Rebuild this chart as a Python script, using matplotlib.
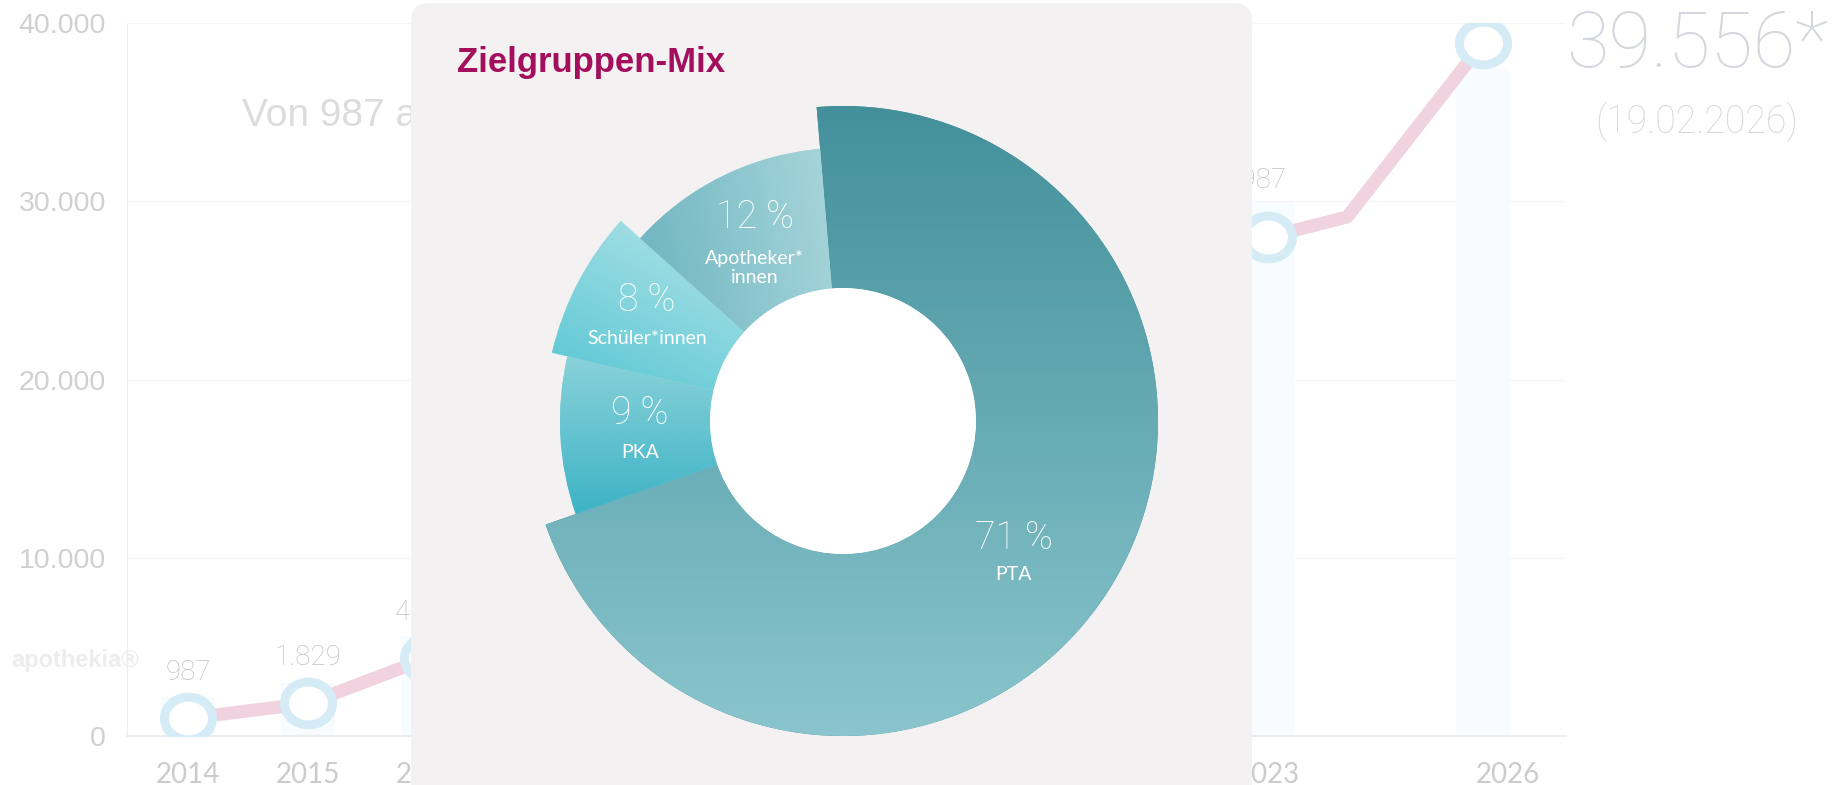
import matplotlib
matplotlib.use("Agg")
import numpy as np
import matplotlib.pyplot as plt
from matplotlib.patches import FancyBboxPatch, Circle
from matplotlib.path import Path
from matplotlib.transforms import Affine2D
from matplotlib.colors import LinearSegmentedColormap

W, H = 1841, 785
LIGHT = dict(family="Roboto", weight="light")

# background line chart: users per year
years = ["2014", "2015", "2016", "2017", "2018", "2019", "2020", "2021",
         "2022", "2023", "2024", "2026"]
year_pos = [0, 1, 2, 3, 4, 5, 6, 7, 8, 9, 9.66, 10.79]
users = [987, 1829, 4380, 8100, 12300, 16400, 20300, 23600, 26100, 27987,
         29120, 38880]
user_labels = ["987", "1.829", "4.380", "", "", "", "", "", "", "27.987",
               "", ""]
bar_heights = [2200, 3000, 5600, 9500, 13500, 17500, 21500, 25000, 27500,
               29960, 0, 37500]
with_marker = [0, 1, 2, 3, 4, 5, 6, 7, 8, 9, 11]
tick_pos = [0, 1, 2, 3, 4, 5, 6, 7, 8, 9, 11]
tick_labels = ["2014", "2015", "2016", "2017", "2018", "2019", "2020",
               "2021", "2022", "2023", "2026"]
y_ticks = [0, 10000, 20000, 30000, 40000]
y_tick_labels = ["0", "10.000", "20.000", "30.000", "40.000"]

# donut: target group mix
groups = ["PTA", "PKA", "Schüler*innen", "Apotheker*\ninnen"]
shares = [71, 9, 8, 12]


def px(x, y):
    # pixel position (from top left) -> figure fraction
    return x / W, 1 - y / H


fig = plt.figure(figsize=(W / 100, H / 100), dpi=100)
fig.patch.set_facecolor("white")

# ---- background chart ----
ax = fig.add_axes([127 / W, 49 / H, (1566 - 127) / W, 713 / H])
ax.set_xlim(-0.508, 11.483)
ax.set_ylim(0, 40000)
ax.set_facecolor("none")
for s in ["top", "right"]:
    ax.spines[s].set_visible(False)
ax.spines["left"].set_color("#efefef")
ax.spines["bottom"].set_color("#ececec")
ax.spines["bottom"].set_linewidth(1.5)
ax.set_axisbelow(True)
ax.grid(axis="y", color="#f5f5f5", lw=1)

ax.bar(year_pos, bar_heights, width=0.45, color="#f8fcfe", zorder=1)

ring = Path.unit_circle().transformed(Affine2D().scale(1.0, 0.89))
ax.plot(year_pos, users, color="#f1d3df", lw=9.4, solid_joinstyle="round",
        zorder=2)
ax.plot([year_pos[i] for i in with_marker], [users[i] for i in with_marker],
        ls="none", marker=ring, ms=34.6, mew=6.5, mec="#d5ecf6", mfc="white",
        zorder=3)
for i, (x, v, lab) in enumerate(zip(year_pos, users, user_labels)):
    if lab:
        dx, dy = (-16, 41) if i == 9 else (0, 33)
        ax.annotate(lab, (x, v), xytext=(dx, dy), textcoords="offset points",
                    ha="center", va="center", fontsize=20, color="#c2c2c2",
                    **LIGHT)

ax.set_xticks(tick_pos)
ax.set_xticklabels(tick_labels, family="Lato", fontsize=20, color="#cccccc")
ax.set_yticks(y_ticks)
ax.set_yticklabels(y_tick_labels, family="Liberation Sans", fontsize=20.5,
                   color="#d0d0d0")
ax.tick_params(axis="both", length=0)
ax.tick_params(axis="y", pad=15)
ax.tick_params(axis="x", pad=19)

ax.text(*px(242, 116), "Von 987 auf 39.556 Nutzer*innen",
        transform=fig.transFigure, family="Liberation Sans", fontsize=28,
        color="#dcdcdc", va="center", ha="left")
ax.text(*px(11, 660), "apothekia®", transform=fig.transFigure,
        family="Liberation Sans", weight="bold", fontsize=17,
        color="#ededed", va="center", ha="left")
ax.text(*px(1697, 46), "39.556*", transform=fig.transFigure, fontsize=56,
        color="#d4d7de", ha="center", va="center", **LIGHT)
ax.text(*px(1697, 122), "(19.02.2026)", transform=fig.transFigure,
        fontsize=27, color="#d4d7de", ha="center", va="center", **LIGHT)

# ---- overlay panel with donut ----
ax2 = fig.add_axes([0, 0, 1, 1])
ax2.set_zorder(5)
ax2.patch.set_visible(False)

panel = FancyBboxPatch((411, -40), 841, H - 3 + 40,
                       boxstyle="round,pad=0,rounding_size=18",
                       fc="#f4f1f2", ec="none", zorder=0)
ax2.add_patch(panel)
ax2.text(457, H - 72, "Zielgruppen-Mix", family="Liberation Sans",
         weight="bold", fontsize=25, color="#a30f5c", va="baseline",
         ha="left", zorder=6)

cx, cy, r_in = 843, H - 421, 133
radii = [315, 283, 299, 273]
wedges, _ = ax2.pie(shares, startangle=94.8, counterclock=False,
                    center=(cx, cy), radius=315,
                    wedgeprops=dict(width=315 - r_in, ec="none"))

# gradient per segment: start colour, end colour, direction (deg)
grads = [("#8ac5cd", "#43909b", 90),
         ("#3db3c5", "#8ad2da", 90),
         ("#56c6d3", "#b5e4e9", 60),
         ("#6db4bf", "#a8d6db", 10)]
for w, r, (c0, c1, ang) in zip(wedges, radii, grads):
    w.set_radius(r)
    w.set_width(r - r_in)
    w.set_facecolor(c1)
    ext = w.get_path().get_extents()
    gx, gy = np.meshgrid(np.linspace(0, 1, 200), np.linspace(0, 1, 200))
    t = gx * np.cos(np.radians(ang)) + gy * np.sin(np.radians(ang))
    t = (t - t.min()) / (t.max() - t.min())
    cmap = LinearSegmentedColormap.from_list("g", [c0, c1])
    im = ax2.imshow(t, cmap=cmap, origin="lower", aspect="auto",
                    interpolation="bilinear", zorder=2,
                    extent=(ext.x0, ext.x1, ext.y0, ext.y1))
    im.set_clip_path(w)

ax2.add_patch(Circle((cx, cy), r_in, fc="white", ec="none", zorder=4))

# percentages and names, pixel positions from top left
pct_pos = [(1014, 538), (640, 413), (647, 300), (755, 217)]
name_pos = [(1014, 575), (640, 452), (647, 338), (755, 268)]
for g, s, (x1, y1), (x2, y2) in zip(groups, shares, pct_pos, name_pos):
    ax2.text(x1, H - y1, f"{s} %", fontsize=27, color="white", ha="center",
             va="center", zorder=6, **LIGHT)
    ax2.text(x2, H - y2, g, family="Lato", fontsize=14, color="white",
             ha="center", va="center", zorder=6, linespacing=1.1)

ax2.set_xlim(0, W)
ax2.set_ylim(0, H)
ax2.set_aspect("auto")
ax2.axis("off")

fig.savefig("out.png", dpi=100)
